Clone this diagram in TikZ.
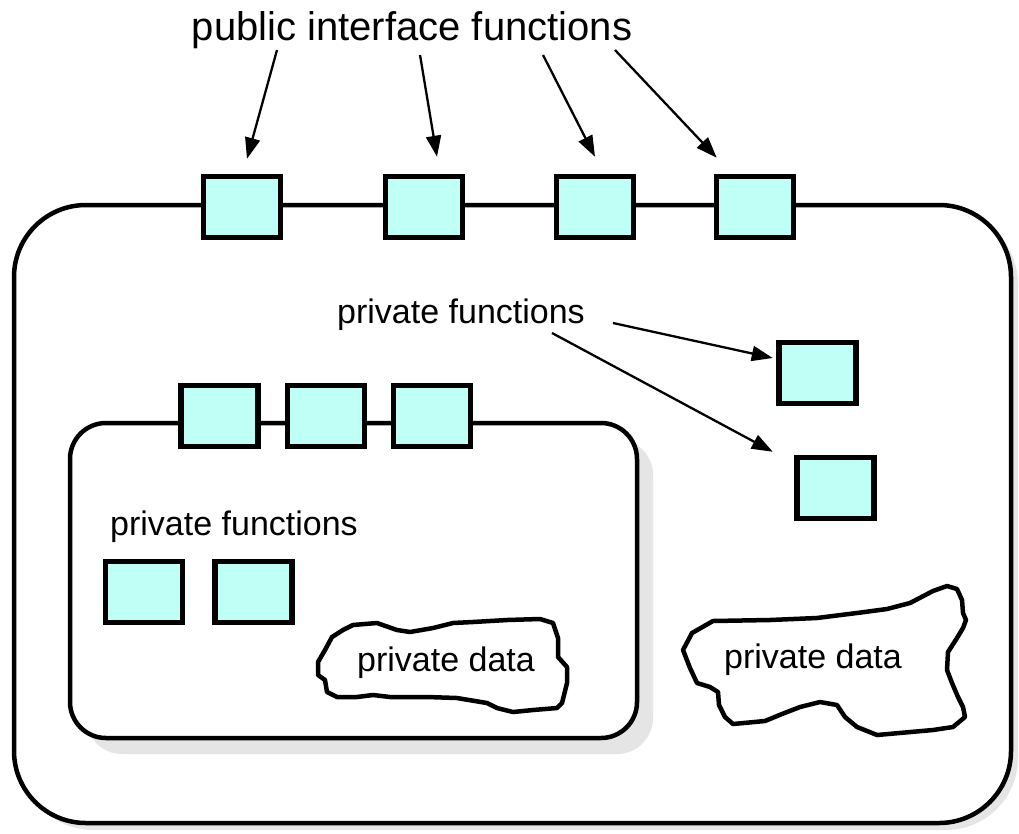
\documentclass[tikz,border=0pt]{standalone}
\usepackage{fontspec}
\setmainfont{Liberation Sans}
\usetikzlibrary{positioning,calc,arrows.meta,shadows}
\definecolor{funccyan}{RGB}{192,255,246}
\definecolor{shadowgray}{RGB}{229,229,229}
\tikzset{
  modulepic/.style={
    x=1pt,y=-1pt
    ,inner sep=0pt
  }
  ,plaintext/.style={ inner sep=0pt, font=\fontsize{34}{40}\selectfont}
  ,titletext/.style={ inner sep=0pt, font=\fontsize{40}{48}\selectfont}
  ,module/.style={draw=black,line width=4.5pt,fill=white,inner sep=0pt}
  ,outermodule/.style={module
    ,rounded corners=72pt
    ,minimum width=997pt,minimum height=618pt
    ,drop shadow={fill=shadowgray,opacity=1,shadow xshift=7pt,shadow yshift=-7pt}
  }
  ,innermodule/.style={module
    ,rounded corners=36pt
    ,minimum width=567pt,minimum height=315pt
    ,drop shadow={fill=shadowgray,opacity=1,shadow xshift=16pt,shadow yshift=-16pt}
  }
  ,func/.style={
    draw=black, line width=5.5pt,
    fill=funccyan,
    minimum width=77pt,
    minimum height=61pt,
    inner sep=0pt
  }
  ,pointer/.style={line width=2.3pt,-{Triangle[length=21pt,width=15pt]}}
  ,blob/.style={draw=black,line width=4.5pt,line join=round,fill=white}
}

\begin{document}
\begin{tikzpicture}[modulepic]
    \useasboundingbox (0,0) rectangle (1019,833);
    % outer module
    \node[outermodule] (outer) at (512.5,514) {};
    \node[titletext] (title) at (412,30) {public interface functions};
    \node[func] (pub1) at (242,207) {};
    \node[func] (pub2) at (424,207) {};
    \node[func] (pub3) at (595,207) {};
    \node[func] (pub4) at (755,207) {};
    \coordinate (t1) at (277,50);
    \coordinate (t2) at (420,55);
    \coordinate (t3) at (543,55);
    \coordinate (t4) at (615,50);
    \draw[pointer] (t1) -- ([xshift=5pt,yshift=15pt]pub1.north);
    \draw[pointer] (t2) -- ([xshift=13pt,yshift=17pt]pub2.north);
    \draw[pointer] (t3) -- ([yshift=17pt]pub3.north);
    \draw[pointer] (t4) -- ([xshift=3pt,yshift=16pt]pub4.north west);
    % private functions of outer module
    \node[plaintext] (privlbl) at (461,315) {private functions};
    \node[func] (privA) at (817.5,373) {};
    \node[func] (privB) at (835.5,488) {};
    \coordinate (p1) at (613,323);
    \coordinate (p2) at (552,333);
    \draw[pointer] (p1) -- ([xshift=-3.5pt,yshift=15pt]privA.west);
    \draw[pointer] (p2) -- ([xshift=-21.5pt,yshift=3pt]privB.north west);
    % private data of outer module
    \draw[blob] (683,650) -- (692,633) -- (713,621) -- (770,620) -- (817,618)
      -- (857,613) -- (887,609) -- (910,603) -- (933,591) -- (947,586)
      -- (957,589) -- (962,600) -- (963,613) -- (966,620) -- (963,628)
      -- (957,638) -- (948,652) -- (947,670) -- (952,683) -- (958,697)
      -- (963,707) -- (965,717) -- (953,727) -- (933,730) -- (877,735)
      -- (857,727) -- (845,717) -- (837,705) -- (820,702) -- (800,707)
      -- (782,714) -- (765,721) -- (733,724) -- (725,717) -- (719,705)
      -- (718,692) -- (710,687) -- (697,683) -- (690,668) -- cycle;
    \node[plaintext] (outdata) at (813,660) {private data};
    % inner module
    \node[innermodule] (inner) at (353.5,580.5) {};
    \node[func] (in1) at (219.5,416) {};
    \node[func] (in2) at (326,416) {};
    \node[func] (in3) at (432,416) {};
    \node[plaintext] (inlbl) at (234,527) {private functions};
    \node[func] (inpriv1) at (144,592) {};
    \node[func] (inpriv2) at (253.5,592) {};
    \draw[blob] (325,650) -- (332,637) -- (343,630) -- (353,625) -- (377,623)
      -- (397,630) -- (410,632) -- (433,628) -- (453,623) -- (473,622)
      -- (507,620) -- (540,619) -- (553,623) -- (558,638) -- (558,657)
      -- (567,667) -- (567,683) -- (562,703) -- (557,708) -- (533,710)
      -- (513,712) -- (497,708) -- (487,703) -- (457,698) -- (427,697)
      -- (410,697) -- (390,697) -- (373,695) -- (357,697) -- (337,697)
      -- (327,692) -- (325,680) -- (318,675) -- (318,662) -- cycle;
    \node[plaintext] (indata) at (446,663) {private data};
\end{tikzpicture}
\end{document}
